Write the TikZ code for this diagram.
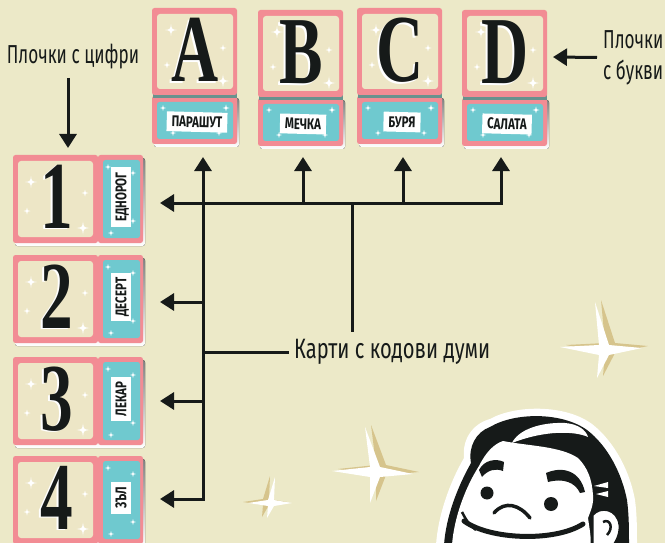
\documentclass[tikz,border=0pt]{standalone}
\usepackage{fontspec}
\setmainfont{Liberation Serif}
\newfontfamily\glyphfont[FakeStretch=0.68]{Liberation Serif}
\newfontfamily\handfont[FakeStretch=0.66]{Fira Sans}
\newfontfamily\kodfont[FakeStretch=0.72]{Fira Sans}
\newfontfamily\wordfont[FakeStretch=0.74]{Fira Sans}
\usetikzlibrary{arrows.meta}

\definecolor{bg}{RGB}{236,233,200}
\definecolor{tilepink}{RGB}{242,140,148}
\definecolor{tilecream}{RGB}{237,230,198}
\definecolor{cardteal}{RGB}{111,201,207}
\definecolor{ink}{RGB}{22,26,25}
\definecolor{shade}{RGB}{176,173,143}
\definecolor{edge}{RGB}{104,146,142}
\definecolor{sparkshade}{RGB}{214,196,140}

\tikzset{
  tileframe/.style={fill=tilepink, rounded corners=2.5pt, inner sep=0pt},
  wordbase/.style={fill=white, text=ink, font=\wordfont\bfseries\fontsize{15.5}{15.5}\selectfont,
    inner xsep=5pt, inner ysep=4.5pt, text height=10.8pt, text depth=0pt},
  word/.style={wordbase, rotate=-1.5},
  wordup/.style={wordbase, rotate=90},
  glyph/.style={font=\glyphfont\bfseries\fontsize{96}{96}\selectfont, text=ink, anchor=base, inner sep=0pt},
  glyphlight/.style={glyph, text=white},
  hand/.style={font=\handfont\fontsize{26}{31}\selectfont, text=ink, inner sep=0pt},
  link/.style={draw=ink, line width=3pt, line join=miter},
  pointer/.style={-{Triangle[width=17pt,length=14pt]}},
  twoway/.style={{Triangle[width=17pt,length=14pt]}-{Triangle[width=17pt,length=14pt]}},
  twinkle/.pic={\fill[white] (0,-1) .. controls (0.12,-0.12) .. (1,0)
      .. controls (0.12,0.12) .. (0,1) .. controls (-0.12,0.12) .. (-1,0)
      .. controls (-0.12,-0.12) .. (0,-1) -- cycle;}
}

% letter tile with its word card: name, left, top, letter, word
\newcommand\lettertile[5]{%
  \fill[shade,rounded corners=2.5pt] (#2+2,#3+90) rectangle (#2+87,#3+139);
  \node[tileframe,minimum width=85pt,minimum height=48pt] (c#1) at (#2+42.5,#3+112) {};
  \fill[cardteal,rounded corners=2.5pt] (#2+5,#3+94) rectangle (#2+81,#3+131);
  \node[word] (w#1) at (#2+45,#3+114) {#5};
  \pic[scale=3] at (#2+11,#3+100) {twinkle};
  \pic[scale=3.5] at (#2+74,#3+100) {twinkle};
  \pic[scale=3] at (#2+21,#3+125) {twinkle};
  \pic[scale=3] at (#2+67,#3+125) {twinkle};
  \fill[edge] (#2+1,#3+85) rectangle (#2+85,#3+90);
  \node[tileframe,minimum width=85pt,minimum height=87pt] (t#1) at (#2+42.5,#3+43.5) {};
  \fill[tilecream,rounded corners=3pt] (#2+5,#3+6) rectangle (#2+81,#3+81);
  \pic[scale=6] at (#2+19,#3+22) {twinkle};
  \pic[scale=3.5] at (#2+71,#3+40) {twinkle};
  \pic[scale=3.5] at (#2+15,#3+57) {twinkle};
  \pic[scale=6.5] at (#2+71,#3+73) {twinkle};
  \node[glyphlight] at (#2+41,#3+75.5) {#4};
  \node[glyph] (g#1) at (#2+43,#3+74) {#4};
}

% number tile with its word card on the right: name, left, top, digit, word
\newcommand\numbertile[5]{%
  \fill[shade,rounded corners=2.5pt] (#2+2,#3+3) rectangle (#2+132,#3+91);
  \node[tileframe,minimum width=45pt,minimum height=88pt] (c#1) at (#2+107.5,#3+44) {};
  \fill[cardteal,rounded corners=2.5pt] (#2+90,#3+5) rectangle (#2+127,#3+83);
  \node[wordup] (w#1) at (#2+108,#3+42) {#5};
  \pic[scale=3] at (#2+95,#3+12) {twinkle};
  \pic[scale=3] at (#2+120,#3+18) {twinkle};
  \pic[scale=3] at (#2+120,#3+66) {twinkle};
  \pic[scale=3] at (#2+98,#3+78) {twinkle};
  \node[tileframe,minimum width=85pt,minimum height=88pt] (t#1) at (#2+42.5,#3+44) {};
  \fill[tilecream,rounded corners=3pt] (#2+5,#3+6) rectangle (#2+80,#3+82);
  \pic[scale=6] at (#2+18,#3+27) {twinkle};
  \pic[scale=3.5] at (#2+72,#3+38) {twinkle};
  \pic[scale=3.5] at (#2+14,#3+56) {twinkle};
  \pic[scale=6.5] at (#2+70,#3+73) {twinkle};
  \node[glyphlight] at (#2+42,#3+74.5) {#4};
  \node[glyph] (g#1) at (#2+44,#3+73) {#4};
}

\begin{document}
\begin{tikzpicture}[x=1pt,y=-1pt]
\useasboundingbox (0,0) rectangle (665,543);
\clip (0,0) rectangle (665,543);
\fill[bg] (0,0) rectangle (665,543);

% large sparkles on the table
\newcommand\sparkA{(365,427) -- (380,467) -- (413,474) -- (380,477) -- (370,503) -- (370,477) -- (332,471) -- (370,467) -- cycle}
\newcommand\sparkB{(595,302) -- (609,345) -- (642,348) -- (609,355) -- (597,378) -- (599,355) -- (560,347) -- (599,345) -- cycle}
\newcommand\sparkC{(275,477) -- (274,500) -- (292,503) -- (274,506) -- (267,518) -- (268,506) -- (248,503) -- (268,500) -- cycle}
\fill[sparkshade,shift={(6,-2)}] \sparkA;
\fill[white] \sparkA;
\fill[sparkshade,shift={(6,-2)}] \sparkB;
\fill[white] \sparkB;
\fill[sparkshade,shift={(-5,-1)}] \sparkC;
\fill[white] \sparkC;

% smiling host in the corner
\fill[white] (436,545) .. controls (438,515) and (450,482) .. (464,458)
  .. controls (462,440) and (472,424) .. (490,419)
  .. controls (515,405) and (565,404) .. (592,424)
  .. controls (615,442) and (630,472) .. (635,500)
  .. controls (637,515) and (637,530) .. (637,545) -- cycle;
\fill[ink] (444,545) .. controls (446,517) and (457,488) .. (471,463)
  .. controls (468,447) and (476,432) .. (490,427)
  .. controls (515,412) and (562,412) .. (587,430)
  .. controls (608,446) and (622,474) .. (627,500)
  .. controls (629,515) and (629,530) .. (629,545) -- cycle;
\fill[white] (452,545) .. controls (454,518) and (465,488) .. (479,466)
  .. controls (486,452) and (494,444) .. (503,441)
  .. controls (528,446) and (560,446) .. (578,458)
  .. controls (588,468) and (592,480) .. (593,495)
  .. controls (594,505) and (590,512) .. (588,518)
  -- (592,545) -- cycle;
\fill[white] (512,443) .. controls (518,430) and (540,422) .. (565,423)
  .. controls (578,424) and (586,430) .. (588,437)
  .. controls (575,431) and (545,430) .. (512,443) -- cycle;
\fill[white] (608,482) -- (594,486) -- (608,488) -- cycle;
\fill[white] (608,491) -- (596,494) -- (608,497) -- cycle;
\filldraw[fill=white, draw=ink, line width=3pt] (592,515) .. controls (600,505) and (618,508) .. (620,525)
  .. controls (621,535) and (615,545) .. (612,547) -- (592,547) -- cycle;
\draw[ink, line width=2.5pt] (603,522) .. controls (610,518) and (614,528) .. (607,535);
\fill[ink] (479,470) .. controls (484,460) and (496,458) .. (504,462) -- (503,471)
  .. controls (495,468) and (488,470) .. (482,477) -- cycle;
\fill[ink] (546,473) .. controls (562,466) and (580,470) .. (585,492) -- (580,493)
  .. controls (575,482) and (563,478) .. (548,482) -- cycle;
\fill[ink] (487,493) circle (6.5pt);
\fill[ink] (551,504) circle (7pt);
\draw[ink, line width=3.5pt, line cap=round] (494,513) .. controls (505,500) and (520,505) .. (530,518);
\draw[ink, line width=2.5pt] (462,512) .. controls (466,520) and (470,526) .. (476,530);
\draw[ink, line width=5pt, line cap=round] (464,521) .. controls (490,540) and (555,542) .. (583,524);

% tiles
\lettertile{A}{152}{8}{A}{ПАРАШУТ}
\lettertile{B}{258}{10}{B}{МЕЧКА}
\lettertile{C}{357}{8}{C}{БУРЯ}
\lettertile{D}{462}{10}{D}{САЛАТА}
\numbertile{1}{13}{155}{1}{ЕДНОРОГ}
\numbertile{2}{13}{255}{2}{ДЕСЕРТ}
\numbertile{3}{13}{357}{3}{ЛЕКАР}
\numbertile{4}{13}{456}{4}{ЗЪЛ}

% captions
\node[hand] (digitsNote) at (73,57) {Плочки с цифри};
\node[hand, anchor=west, align=left] (lettersNote) at (603,57.5) {Плочки\\с букви};
\node[hand, anchor=west, font=\kodfont\fontsize{28}{31}\selectfont] (kod) at (294,352) {Карти с кодови думи};

% connector points
\coordinate (digitsFrom) at (68,78);
\coordinate (digitsTo) at (68,148);
\coordinate (lettersTo) at (553,57);
\coordinate (upA) at (203,157);
\coordinate (upB) at (303,157);
\coordinate (upC) at (403,157);
\coordinate (upD) at (501,157);
\coordinate (jB) at (303,203);
\coordinate (jC) at (403,203);
\coordinate (cornerD) at (501,203);
\coordinate (hub) at (352,203);
\coordinate (hubEnd) at (352,332);
\coordinate (left1) at (160,203);
\coordinate (left2) at (160,302);
\coordinate (left3) at (160,401);
\coordinate (left4) at (160,499);
\coordinate (j2) at (203,302);
\coordinate (j3) at (203,401);
\coordinate (foot) at (203,499);
\coordinate (fork) at (203,352);

% connectors
\draw[link,pointer] (digitsFrom) -- (digitsTo);
\draw[link,pointer] ([xshift=-6pt]lettersNote.west) -- (lettersTo);
\draw[link,twoway] (left1) -- (cornerD) -- (upD);
\draw[link,twoway] (left4) -- (foot) -- (upA);
\draw[link,pointer] (jB) -- (upB);
\draw[link,pointer] (jC) -- (upC);
\draw[link,pointer] (j2) -- (left2);
\draw[link,pointer] (j3) -- (left3);
\draw[link] (hub) -- (hubEnd);
\draw[link] (fork) -- ([xshift=-5pt]kod.west);
\end{tikzpicture}
\end{document}
